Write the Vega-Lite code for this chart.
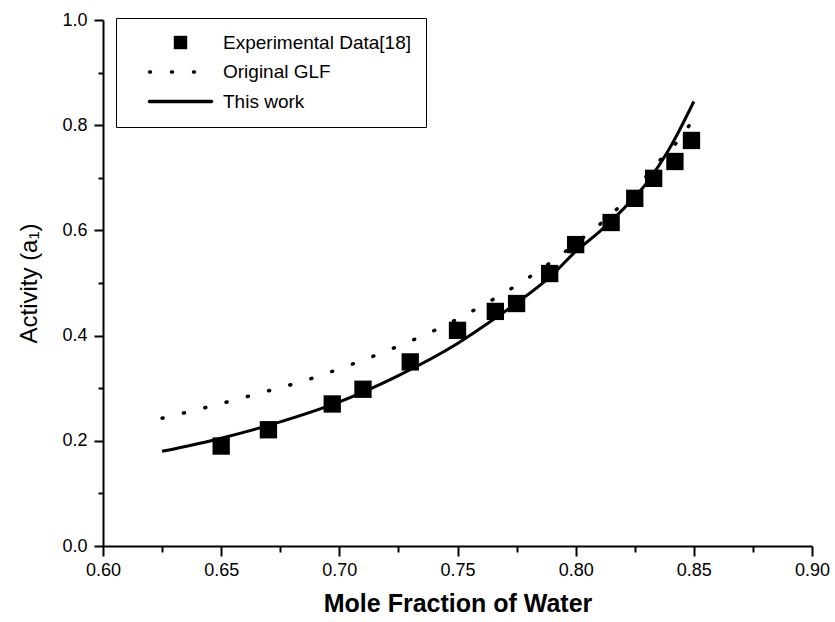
{
  "$schema": "https://vega.github.io/schema/vega-lite/v6.json",
  "width": 709,
  "height": 526,
  "autosize": {"type": "none"},
  "padding": {"left": 103, "top": 20, "right": 23, "bottom": 76},
  "background": "white",
  "config": {
    "view": {"stroke": null},
    "font": "Liberation Sans",
    "axis": {
      "domainColor": "black", "domainWidth": 2, "tickColor": "black", "tickWidth": 2,
      "labelColor": "black", "labelFont": "Liberation Sans", "labelFontSize": 18,
      "titleColor": "black", "titleFont": "Liberation Sans", "grid": false
    },
    "legend": {
      "orient": "none", "legendX": 13, "legendY": -2,
      "strokeColor": "black", "fillColor": "white", "padding": 15,
      "labelFontSize": 19, "labelFont": "Liberation Sans", "labelColor": "black", "labelLimit": 400,
      "labelOffset": 33, "symbolOffset": 40, "rowPadding": 9.5, "symbolStrokeWidth": 3
    }
  },
  "datasets": {
    "exp": [
      {"x": 0.65, "y": 0.19}, {"x": 0.67, "y": 0.221}, {"x": 0.697, "y": 0.27},
      {"x": 0.71, "y": 0.298}, {"x": 0.73, "y": 0.35}, {"x": 0.75, "y": 0.41},
      {"x": 0.766, "y": 0.446}, {"x": 0.775, "y": 0.461}, {"x": 0.789, "y": 0.518},
      {"x": 0.80, "y": 0.573}, {"x": 0.815, "y": 0.615}, {"x": 0.825, "y": 0.661},
      {"x": 0.833, "y": 0.699}, {"x": 0.842, "y": 0.731}, {"x": 0.849, "y": 0.771}
    ],
    "glf": [
      {"x": 0.625, "y": 0.243}, {"x": 0.645, "y": 0.265}, {"x": 0.665, "y": 0.289},
      {"x": 0.685, "y": 0.314}, {"x": 0.705, "y": 0.345}, {"x": 0.725, "y": 0.38},
      {"x": 0.745, "y": 0.42}, {"x": 0.76, "y": 0.456}, {"x": 0.78, "y": 0.51},
      {"x": 0.80, "y": 0.575}, {"x": 0.82, "y": 0.652}, {"x": 0.835, "y": 0.73},
      {"x": 0.845, "y": 0.78}, {"x": 0.852, "y": 0.827}
    ],
    "work": [
      {"x": 0.625, "y": 0.18}, {"x": 0.65, "y": 0.205}, {"x": 0.675, "y": 0.236},
      {"x": 0.70, "y": 0.274}, {"x": 0.725, "y": 0.324}, {"x": 0.75, "y": 0.385},
      {"x": 0.765, "y": 0.43}, {"x": 0.775, "y": 0.462}, {"x": 0.79, "y": 0.515},
      {"x": 0.80, "y": 0.56}, {"x": 0.81, "y": 0.597}, {"x": 0.82, "y": 0.64},
      {"x": 0.83, "y": 0.69}, {"x": 0.84, "y": 0.758}, {"x": 0.85, "y": 0.845}
    ]
  },
  "encoding": {
    "x": {
      "field": "x", "type": "quantitative",
      "scale": {"domain": [0.6, 0.9], "nice": false, "zero": false},
      "axis": {
        "title": "Mole Fraction of Water",
        "titleFontSize": 25, "titleFontWeight": "bold", "titlePadding": 12,
        "values": [0.6, 0.625, 0.65, 0.675, 0.7, 0.725, 0.75, 0.775, 0.8, 0.825, 0.85, 0.875, 0.9],
        "labelExpr": "abs(datum.value*20 - round(datum.value*20)) < 0.001 ? format(datum.value, '.2f') : ''",
        "tickSize": {"condition": {"test": "abs(datum.value*20 - round(datum.value*20)) < 0.001", "value": 10}, "value": 6},
        "labelPadding": 5,
        "labelFlush": false
      }
    },
    "y": {
      "field": "y", "type": "quantitative",
      "scale": {"domain": [0, 1], "nice": false},
      "axis": {
        "title": "Activity (a₁)",
        "titleFontSize": 24, "titleFontWeight": "normal", "titlePadding": 20,
        "values": [0, 0.1, 0.2, 0.3, 0.4, 0.5, 0.6, 0.7, 0.8, 0.9, 1.0],
        "labelExpr": "abs(datum.value*5 - round(datum.value*5)) < 0.001 ? format(datum.value, '.1f') : ''",
        "tickSize": {"condition": {"test": "abs(datum.value*5 - round(datum.value*5)) < 0.001", "value": 9}, "value": 5},
        "labelPadding": 7
      }
    },
    "color": {
      "datum": "Experimental Data[18]",
      "scale": {"domain": ["Experimental Data[18]", "Original GLF", "This work"], "range": ["black", "black", "black"]},
      "legend": {
        "title": null,
        "encode": {
          "symbols": {
            "update": {
              "shape": {"signal": "datum.value === 'Experimental Data[18]' ? 'square' : 'stroke'"},
              "size": {"signal": "datum.value === 'Experimental Data[18]' ? 180 : 3844"},
              "strokeDash": {"signal": "datum.value === 'Original GLF' ? [1, 21] : []"},
              "strokeCap": {"value": "round"},
              "fill": {"signal": "datum.value === 'Experimental Data[18]' ? 'black' : 'transparent'"},
              "stroke": {"value": "black"},
              "strokeWidth": {"signal": "datum.value === 'Experimental Data[18]' ? 0 : 3.5"}
            }
          }
        }
      }
    }
  },
  "layer": [
    {
      "data": {"name": "glf"},
      "mark": {"type": "line", "strokeWidth": 3.5, "strokeDash": [1, 21], "strokeCap": "round", "interpolate": "monotone"},
      "encoding": {"color": {"datum": "Original GLF"}}
    },
    {
      "data": {"name": "work"},
      "mark": {"type": "line", "strokeWidth": 3, "interpolate": "monotone"},
      "encoding": {"color": {"datum": "This work"}}
    },
    {
      "data": {"name": "exp"},
      "mark": {"type": "point", "shape": "square", "filled": true, "size": 300, "opacity": 1}
    }
  ]
}
